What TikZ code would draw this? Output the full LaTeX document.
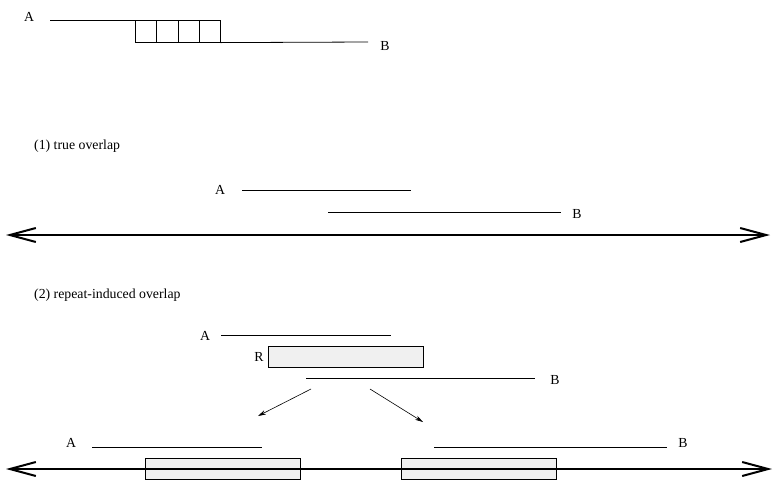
\documentclass[tikz,border=0pt]{standalone}
\usepackage{fontspec}
\setmainfont{Liberation Serif}
\usetikzlibrary{arrows.meta,positioning}
\tikzset{
    read/.style={draw=black, line width=0.8pt},
    repeatbox/.style={
           rectangle,
           draw=black, line width=0.6pt,
           fill=gray!12,
           minimum width=155pt,
           minimum height=21pt,
           inner sep=0pt,
           },
    cell/.style={
           rectangle,
           draw=black, line width=0.6pt,
           minimum width=21.25pt,
           minimum height=22pt,
           inner sep=0pt,
           },
    lbl/.style={inner sep=0pt, font=\fontsize{13.8}{16}\selectfont},
    axis/.style={line width=1.6pt,
           {Straight Barb[length=26pt,width=14pt,line width=2pt]}-{Straight Barb[length=26pt,width=14pt,line width=2pt]}},
    split/.style={line width=0.6pt, -{Stealth[length=8pt,width=4.5pt]}},
}

\begin{document}
\begin{tikzpicture}[x=1pt,y=-1pt]
  \useasboundingbox (0,0) rectangle (775,496);

  % read pair with tandem cells
  \node[lbl] (A0) at (29,17) {A};
  \node[lbl] (B0) at (385,46) {B};
  \coordinate (a0s) at (50,20);
  \coordinate (b0e) at (368,42);
  \foreach \i in {0,...,3}
    \node[cell, anchor=north west] (c\i) at (135+21.25*\i,20) {};
  \draw[read] (a0s) -- (c0.north west);
  \draw[read] (c3.south east) -- (b0e);

  % (1) true overlap
  \node[lbl, anchor=west] (t1) at (34,146) {(1) true overlap};
  \node[lbl] (A1) at (220,190) {A};
  \node[lbl] (B1) at (577,214) {B};
  \coordinate (a1s) at (242,190);
  \coordinate (a1e) at (411,190);
  \coordinate (b1s) at (328,212);
  \coordinate (b1e) at (561,212);
  \coordinate (g1s) at (6,235);
  \coordinate (g1e) at (770,235);
  \draw[read] (a1s) -- (a1e);
  \draw[read] (b1s) -- (b1e);
  \draw[axis] (g1s) -- (g1e);

  % (2) repeat-induced overlap
  \node[lbl, anchor=west] (t2) at (34,295) {(2) repeat-induced overlap};
  \node[lbl] (A2) at (205,336) {A};
  \node[repeatbox] (R2) at (345.5,357) {};
  \node[lbl, left=4pt of R2] (Rl) {R};
  \node[lbl] (B2) at (555,380) {B};
  \coordinate (a2s) at (221,335);
  \coordinate (a2e) at (391,335);
  \coordinate (b2s) at (306,378);
  \coordinate (b2e) at (535,378);
  \draw[read] (a2s) -- (a2e);
  \draw[read] (b2s) -- (b2e);
  \coordinate (s1) at (311,389);
  \coordinate (s1e) at (258,416);
  \coordinate (s2) at (370,389);
  \coordinate (s2e) at (423,422);
  \draw[split] (s1) -- (s1e);
  \draw[split] (s2) -- (s2e);

  % placement on the genome
  \node[lbl] (A3) at (71,443) {A};
  \node[lbl] (B3) at (683,443) {B};
  \coordinate (a3s) at (92,447);
  \coordinate (a3e) at (262,447);
  \coordinate (b3s) at (434,447);
  \coordinate (b3e) at (667,447);
  \draw[read] (a3s) -- (a3e);
  \draw[read] (b3s) -- (b3e);
  \node[repeatbox] (R3a) at (222.5,468.5) {};
  \node[repeatbox] (R3b) at (478.5,468.5) {};
  \coordinate (g2s) at (6,469);
  \coordinate (g2e) at (772,469);
  \draw[axis] (g2s) -- (g2e);
\end{tikzpicture}
\end{document}
